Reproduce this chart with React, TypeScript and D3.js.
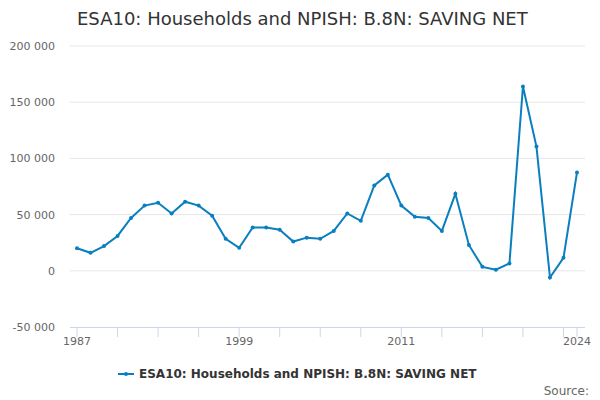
import React from "react";
import * as d3 from "d3";

const years = d3.range(1987, 2025);
const values = [
  20, 16, 22, 31, 47, 58, 60.5, 51, 61.5, 58, 49, 28.5, 20.5, 38.5, 38.5, 36.5, 26, 29.5, 28.5, 35.5,
  51, 44.5, 76, 85.5, 58, 48, 47, 35.5, 68.5, 23, 3.5, 1, 6.5, 164, 110.5, -6, 11.5, 87.5,
].map((v) => v * 1000);
const yTicks = [-50000, 0, 50000, 100000, 150000, 200000];
const xLabels = [1987, 1999, 2011, 2024];
const xTickYears = [...d3.range(1987, 2024, 3), 2024];
const seriesName = "ESA10: Households and NPISH: B.8N: SAVING NET";
const color = "#0a7fc0";

export default function App() {
  const W = 600, H = 400;
  const x = d3.scaleLinear().domain([1987, 2024]).range([77, 577]);
  const y = d3.scaleLinear().domain([-50000, 200000]).range([327, 46]);
  const line = d3.line<number>().x((_, i) => x(years[i])).y((d) => y(d));
  const fmt = (v: number) => d3.format(",")(v).replace(/,/g, " ").replace("\u2212", "-");
  return (
    <svg width={W} height={H} style={{ position: "absolute", left: 0, top: 0, fontFamily: "DejaVu Sans, sans-serif" }}>
      <rect width={W} height={H} fill="#fff" />
      <text x={77} y={25} fontSize={18} fill="#333">{seriesName}</text>
      {yTicks.map((t) => (
        <g key={t}>
          {t > -50000 && <line x1={70} x2={585} y1={y(t)} y2={y(t)} stroke="#e6e6e6" />}
          <text x={55} y={y(t) + 4} fontSize={11} fill="#666" textAnchor="end">{fmt(t)}</text>
        </g>
      ))}
      <line x1={70} x2={585} y1={327.5} y2={327.5} stroke="#ccd6eb" />
      {xTickYears.map((yr) => (
        <line key={yr} x1={x(yr)} x2={x(yr)} y1={327} y2={337} stroke="#ccd6eb" />
      ))}
      {xLabels.map((yr) => (
        <text key={yr} x={x(yr)} y={345} fontSize={11} fill="#666" textAnchor="middle">{yr}</text>
      ))}
      <path d={line(values) || ""} fill="none" stroke={color} strokeWidth={2} />
      {values.map((v, i) => (
        <circle key={i} cx={x(years[i])} cy={y(v)} r={2} fill={color} />
      ))}
      <line x1={118} x2={134} y1={374} y2={374} stroke={color} strokeWidth={2} />
      <circle cx={126} cy={374} r={2} fill={color} />
      <text x={139} y={378} fontSize={12} fontWeight="bold" fill="#333">{seriesName}</text>
      <text x={589} y={395} fontSize={12} fill="#666" textAnchor="end">Source:</text>
    </svg>
  );
}
